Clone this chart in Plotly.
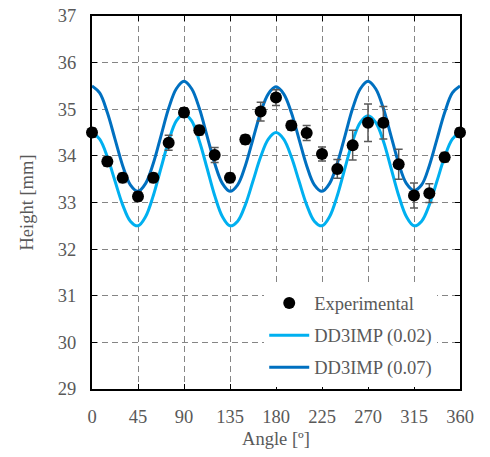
import plotly.graph_objects as go

# Experimental data
exp_angle = [0, 15, 30, 45, 60, 75, 90, 105, 120, 135, 150, 165, 180,
             195, 210, 225, 240, 255, 270, 285, 300, 315, 330, 345, 360]
exp_height = [34.50, 33.88, 33.53, 33.13, 33.53, 34.28, 34.93, 34.55, 34.02, 33.53, 34.35, 34.95, 35.25,
              34.65, 34.49, 34.04, 33.72, 34.23, 34.71, 34.71, 33.82, 33.15, 33.20, 33.97, 34.50]
exp_err = [0.10, 0.10, 0.10, 0.10, 0.10, 0.16, 0.10, 0.10, 0.16, 0.10, 0.10, 0.20, 0.17,
           0.10, 0.16, 0.15, 0.20, 0.32, 0.40, 0.35, 0.32, 0.27, 0.20, 0.10, 0.10]

# Simulation curves (sampled every 7.5 deg)
sim_angle = [i * 7.5 for i in range(49)]
sim_002 = [34.50, 34.36, 33.98, 33.46, 32.95, 32.60, 32.50, 32.70, 33.15, 33.74, 34.32, 34.75, 34.90,
           34.75, 34.32, 33.74, 33.15, 32.70, 32.50, 32.60, 32.95, 33.46, 33.98, 34.36, 34.50,
           34.36, 33.98, 33.46, 32.95, 32.60, 32.50, 32.70, 33.15, 33.74, 34.32, 34.72, 34.86,
           34.72, 34.32, 33.74, 33.15, 32.70, 32.50, 32.60, 32.95, 33.46, 33.98, 34.36, 34.50]
sim_007 = [35.50, 35.35, 34.93, 34.36, 33.79, 33.38, 33.24, 33.41, 33.84, 34.43, 35.02, 35.44, 35.60,
           35.44, 35.02, 34.43, 33.84, 33.41, 33.24, 33.38, 33.79, 34.36, 34.93, 35.33, 35.48,
           35.33, 34.93, 34.36, 33.79, 33.38, 33.24, 33.41, 33.84, 34.43, 35.02, 35.44, 35.60,
           35.44, 35.02, 34.43, 33.84, 33.41, 33.26, 33.38, 33.79, 34.36, 34.93, 35.35, 35.50]

x_ticks = [0, 45, 90, 135, 180, 225, 270, 315, 360]

FONT = "Liberation Serif, Times New Roman, serif"
GRAY = "#595959"

fig = go.Figure()
fig.add_trace(go.Scatter(x=sim_angle, y=sim_002, mode="lines", name="DD3IMP (0.02)",
                         line=dict(color="#00B0F0", width=3, shape="spline"),
                         legendrank=2, legendgroup="g2"))
fig.add_trace(go.Scatter(x=sim_angle, y=sim_007, mode="lines", name="DD3IMP (0.07)",
                         line=dict(color="#0070C0", width=3, shape="spline"),
                         legendrank=3, legendgroup="g3"))
fig.add_trace(go.Scatter(x=exp_angle, y=exp_height, mode="markers", name="Experimental",
                         marker=dict(color="black", size=12),
                         error_y=dict(type="data", array=exp_err, color=GRAY, thickness=1.5, width=4),
                         cliponaxis=False, legendrank=1, legendgroup="g1"))

axis_common = dict(showline=True, linecolor="black", linewidth=2, mirror="ticks",
                   ticks="inside", ticklen=5, tickwidth=1.3, tickcolor="black",
                   showgrid=True, gridcolor="#858585", griddash="6px,4px", gridwidth=1.2,
                   zeroline=False, tickfont=dict(family=FONT, size=18.5, color=GRAY),
                   ticklabelstandoff=10, automargin=False)

fig.update_xaxes(range=[0, 360], tickvals=x_ticks,
                 title=dict(text="Angle [º]", font=dict(family=FONT, size=18.5, color=GRAY), standoff=6),
                 **axis_common)
fig.update_yaxes(range=[29, 37], dtick=1,
                 title=dict(text="Height [mm]", font=dict(family=FONT, size=18.5, color=GRAY), standoff=19),
                 **axis_common)

fig.update_layout(
    width=490, height=457,
    margin=dict(l=92, r=30, t=16, b=68),
    paper_bgcolor="white", plot_bgcolor="white",
    showlegend=True,
    legend=dict(x=0.468, y=0.28, xanchor="left", yanchor="top",
                bgcolor="white", borderwidth=0, traceorder="grouped",
                font=dict(family=FONT, size=18.5, color=GRAY),
                tracegroupgap=5, itemwidth=40),
)

fig.write_html("out.html", config={"displayModeBar": False},
               post_script="document.body.style.margin='0';")
